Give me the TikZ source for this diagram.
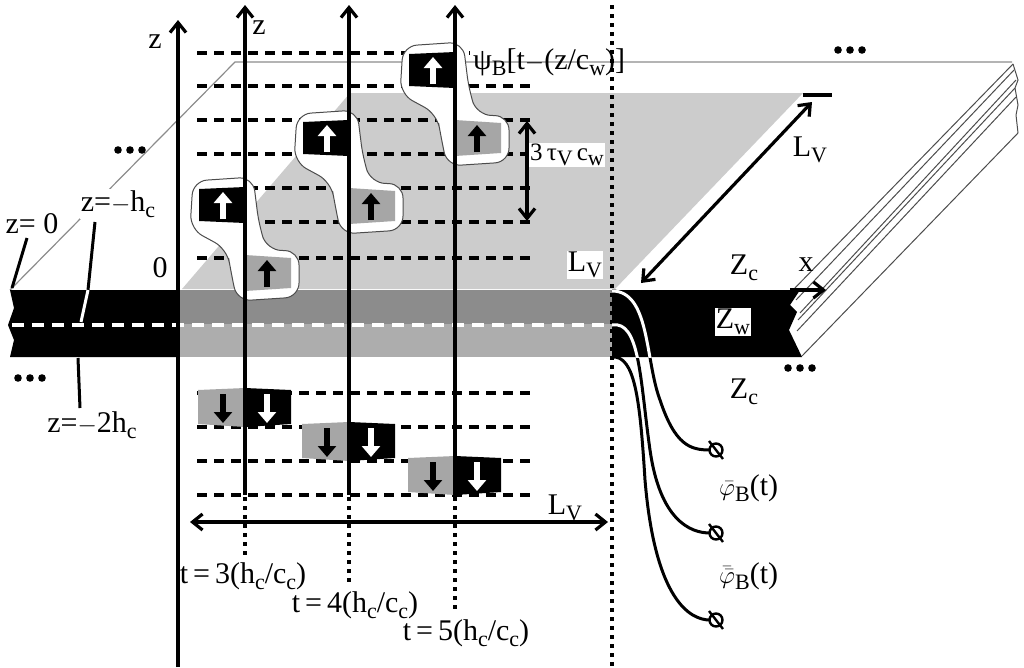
\documentclass[tikz,border=0pt]{standalone}
\usepackage{fontspec}
\setmainfont{Liberation Serif}
\usetikzlibrary{arrows.meta}
\newcommand{\lw}[1]{\raisebox{-0.45ex}{\fontsize{22}{24}\selectfont #1}}
\begin{document}
\begin{tikzpicture}[x=1pt,y=-1pt,
  lab/.style={font=\fontsize{30}{32}\selectfont,inner sep=1pt},
  dsh/.style={line width=3.2pt,dash pattern=on 10pt off 7pt},
  ax/.style={line width=3.2pt,-{Straight Barb[length=10pt,width=16pt]}},
  dot/.style={line width=3.2pt,dash pattern=on 4pt off 5pt},
  blob/.style={fill=white,draw=black!70,line width=1pt,rounded corners=14pt},
  upw/.style={white,line width=6pt,-{Triangle[length=11pt,width=18pt]}},
  upb/.style={black,line width=6pt,-{Triangle[length=11pt,width=18pt]}},
  dbl/.style={line width=3.2pt,{Straight Barb[length=10pt,width=16pt]}-{Straight Barb[length=10pt,width=16pt]}}]
\useasboundingbox (0,0) rectangle (1024,667);
% planes
\draw[black!45,line width=1.2pt] (10,290)--(235,62)--(1012,62);
\fill[black!20] (182,289)--(350,93)--(803,93)--(615,289)--cycle;
\draw[line width=3.2pt] (803,95)--(832,95);
\foreach \a/\b/\c/\d in {1013/64/793/290, 1016/80/800/313, 1016/97/797/331, 1018/133/802/356, 1014/70/796/300, 1015/88/798/320}
  \draw[black!70,line width=1pt] (\a,\b)--(\c,\d);
\draw[black!70,line width=1pt] (1013,64)--(1018,80)--(1015,88)--(1018,105)--(1016,115)--(1018,133);
% slab
\fill[black] (10,290)--(178,290)--(178,357)--(10,357)--(14,340)--(8,325)--(14,308)--cycle;
\fill[black!45] (178,290) rectangle (612,324);
\fill[black!32] (178,324) rectangle (612,357);
\fill[black] (612,290)--(800,290)--(790,305)--(797,312)--(789,330)--(802,357)--(612,357)--cycle;
\draw[white,line width=3.2pt,dash pattern=on 12pt off 8pt] (12,325)--(612,325);
% dashed horizontals
\foreach \y in {120,154,188,222,258,393,427,461,495} \draw[dsh] (197,\y)--(530,\y);
\draw[dsh] (197,53)--(470,53);
\draw[dsh] (197,86)--(530,86);
% blobs and blocks
\foreach \X/\T in {245/187,349/120,455/52}{
  \draw[blob] (\X-52,\T-6)--(\X+8,\T-10)--(\X+14,\T+38)--(\X+22,\T+63)--(\X+54,\T+64)--(\X+54,\T+110)--(\X-8,\T+114)--(\X-14,\T+85)--(\X-18,\T+62)--(\X-55,\T+42)--cycle;
  \fill[black] (\X-46,\T+2)--(\X,\T)--(\X,\T+36)--(\X-46,\T+34)--cycle;
  \fill[black!35] (\X,\T+68)--(\X+46,\T+71)--(\X+46,\T+101)--(\X,\T+104)--cycle;
  \draw[upw] (\X-22,\T+32)--(\X-22,\T+5);
  \draw[upb] (\X+22,\T+100)--(\X+22,\T+73);
}
\foreach \X/\T in {245/393,349/427,455/461}{
  \fill[black!35] (\X-47,\T-3)--(\X,\T-5)--(\X,\T+34)--(\X-47,\T+31)--cycle;
  \fill[black] (\X,\T-5)--(\X+46,\T-3)--(\X+46,\T+31)--(\X,\T+34)--cycle;
  \draw[upb] (\X-22,\T+1)--(\X-22,\T+30);
  \draw[upw] (\X+22,\T+1)--(\X+22,\T+30);
}
% verticals
\draw[ax] (178,667)--(178,20);
\foreach \X/\B in {245/556,349/585,455/612}{
  \draw[ax] (\X,495)--(\X,5);
  \draw[dot] (\X,497)--(\X,\B);
}
\draw[dot] (612,5)--(612,667);
% labels
\node[lab] at (155,42) {z};
\node[lab] at (259,28) {z};
\node[lab] at (160,268) {0};
\node[lab,anchor=west] at (472,62) {ψ\lw{B}[t$-$(z/c\lw{w})]};
\draw[dbl] (527,121)--(527,221);
\node[lab,fill=white] at (567,155) {\fontsize{25}{27}\selectfont 3\,τ\lw{V}\,c\lw{w}};
\node[lab,fill=white] at (585,265) {L\lw{V}};
\draw[dbl] (812,102)--(641,283);
\node[lab] at (810,150) {L\lw{V}};
\draw[dbl] (190,522)--(608,522);
\node[lab] at (565,508) {L\lw{V}};
\node[lab] at (243,576) {t\,=\,3(h\lw{c}/c\lw{c})};
\node[lab] at (355,605) {t\,=\,4(h\lw{c}/c\lw{c})};
\node[lab] at (466,633) {t\,=\,5(h\lw{c}/c\lw{c})};
% left labels
\draw[line width=3pt] (27,238)--(12,288);
\draw[line width=3pt] (95,222)--(88,290);
\draw[white,line width=3pt] (88,290)--(81,322);
\draw[line width=3pt] (78,358)--(80,408);
\node[lab] at (32,224) {z= 0};
\node[lab,fill=white] at (118,204) {z=$-$h\lw{c}};
\node[lab] at (92,425) {z=$-$2h\lw{c}};
\foreach \p in {(130,150),(30,378),(850,50),(800,368)}
  \foreach \d in {-12,0,12} \fill \p ++(\d,0) circle (3.8);
% right labels
\draw[line width=3.2pt,-{Straight Barb[length=10pt,width=16pt]}] (790,290)--(826,290);
\node[lab] at (806,265) {x};
\node[lab] at (744,268) {Z\lw{c}};
\node[lab,fill=white] at (733,322) {Z\lw{w}};
\node[lab] at (744,392) {Z\lw{c}};
% wires
\foreach \c in {{(612,291) .. controls (650,291) and (645,360) .. (660,400) .. controls (675,445) and (690,450) .. (710,450)},
                {(612,325) .. controls (640,320) and (640,380) .. (650,450) .. controls (660,520) and (690,533) .. (710,533)},
                {(612,357) .. controls (635,355) and (640,400) .. (645,480) .. controls (655,600) and (690,620) .. (710,620)}}
  \draw[line width=3pt] \c;
\begin{scope}
\clip (612,290) rectangle (800,357);
\draw[white,line width=3pt] (612,291) .. controls (650,291) and (645,360) .. (660,400);
\draw[white,line width=3pt] (612,325) .. controls (640,320) and (640,380) .. (650,450);
\end{scope}
\foreach \y in {450,533,620}{
  \draw[line width=2.4pt] (716,\y) circle (6.5);
  \draw[line width=2.4pt] (709,\y-9)--(723,\y+9);
}
\node[lab,anchor=west] at (718,488) {$\bar{\varphi}$\lw{B}(t)};
\node[lab,anchor=west] at (718,576) {$\bar{\bar{\varphi}}$\lw{B}(t)};
\end{tikzpicture}
\end{document}
